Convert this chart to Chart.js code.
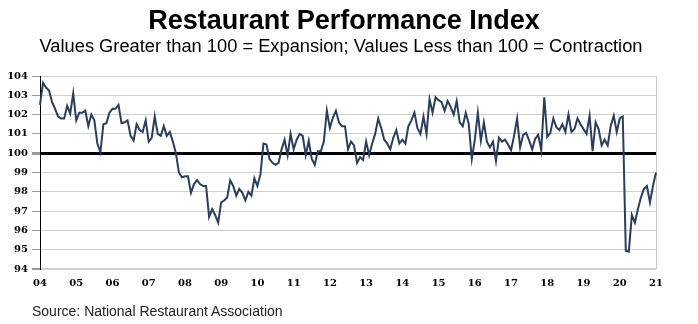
<!DOCTYPE html>
<html><head><meta charset="utf-8">
<script src="https://cdn.jsdelivr.net/npm/chart.js@4"></script>
<style>
html,body{margin:0;padding:0;background:#fff;}
#wrap{position:relative;width:698px;height:324px;overflow:hidden;}
#c{position:absolute;left:0;top:0;}
.t{position:absolute;left:0;width:682px;text-align:center;color:#000;font-family:'Liberation Sans',Arial,sans-serif;white-space:nowrap;}
#title{top:5px;font-size:27px;font-weight:bold;width:688px;}
#sub{top:35px;font-size:18.3px;}
#src{position:absolute;left:32px;top:303px;font-family:'Liberation Sans',Arial,sans-serif;font-size:14px;color:#222;white-space:nowrap;}
</style></head>
<body><div id="wrap">
<canvas id="c" width="698" height="324"></canvas>
<div class="t" id="title">Restaurant Performance Index</div>
<div class="t" id="sub">Values Greater than 100 = Expansion; Values Less than 100 = Contraction</div>
<div id="src">Source: National Restaurant Association</div>
</div>
<script>
const yearLabels = ['04','05','06','07','08','09','10','11','12','13','14','15','16','17','18','19','20','21'];
const yTicks = [94,95,96,97,98,99,100,101,102,103,104];
const rpi2004 = [102.5,103.65,103.4,103.25,102.65,102.3,101.9,101.8,101.8,102.45,102.05,103.1];
const rpi2005 = [101.7,102.1,102.1,102.2,101.4,102.0,101.7,100.5,100.05,101.5,101.55,102.1];
const rpi2006 = [102.3,102.3,102.5,101.55,101.6,101.7,100.9,100.65,101.5,101.2,101.1,101.7];
const rpi2007 = [100.6,100.8,101.9,101.0,100.9,101.4,100.9,101.1,100.6,100.0,99.0,98.75];
const rpi2008 = [98.8,98.8,97.95,98.4,98.6,98.4,98.3,98.3,96.7,97.1,96.8,96.4];
const rpi2009 = [97.45,97.55,97.7,98.6,98.3,97.8,98.15,97.95,97.55,98.0,97.8,98.7];
const rpi2010 = [98.3,98.9,100.5,100.45,99.7,99.5,99.4,99.5,100.2,100.7,99.9,101.0];
const rpi2011 = [100.2,100.7,101.0,100.9,99.9,100.65,99.7,99.4,100.1,100.1,100.6,102.2];
const rpi2012 = [101.3,101.85,102.2,101.6,101.4,101.4,100.2,100.6,100.4,99.5,99.8,99.65];
const rpi2013 = [100.6,99.9,100.5,101.0,101.8,101.3,100.7,100.5,100.2,100.8,101.2,100.5];
const rpi2014 = [100.7,100.5,101.4,101.7,102.1,101.3,101.0,101.9,101.0,102.8,102.1,102.9];
const rpi2015 = [102.75,102.65,102.2,102.7,102.4,102.0,102.7,101.6,101.4,102.1,101.5,99.7];
const rpi2016 = [100.7,102.1,100.65,101.6,100.6,100.3,100.6,99.6,100.8,100.6,100.7,100.45];
const rpi2017 = [100.15,100.9,101.8,100.3,100.95,101.05,100.65,100.2,100.75,100.95,100.15,102.9];
const rpi2018 = [100.85,101.05,101.8,101.35,101.2,101.5,101.1,102.0,101.1,101.25,101.8,101.5];
const rpi2019 = [101.25,101.0,101.95,100.1,101.6,101.25,100.4,100.7,100.4,101.4,101.95,101.1];
const rpi2020 = [101.8,101.9,94.95,94.9,96.8,96.4,97.1,97.7,98.15,98.3,97.45,98.3];
const rpi2021 = [99.0];

const values = [].concat(rpi2004,rpi2005,rpi2006,rpi2007,rpi2008,rpi2009,rpi2010,rpi2011,rpi2012,
  rpi2013,rpi2014,rpi2015,rpi2016,rpi2017,rpi2018,rpi2019,rpi2020,rpi2021);
const labels = values.map((v,i)=> yearLabels[Math.floor(i/12)] + '-' + String(i%12+1).padStart(2,'0'));

new Chart(document.getElementById('c'), {
  type: 'line',
  data: { labels: labels, datasets: [{
    data: values, borderColor: '#2a3e5c', borderWidth: 2, pointRadius: 0, tension: 0, fill: false
  }]},
  options: {
    responsive: false, animation: false,
    layout: { padding: { top: 76, right: 42, left: 0, bottom: 0 } },
    plugins: { legend: { display: false }, tooltip: { enabled: false }, title: { display: false } },
    scales: {
      x: {
        type: 'category', offset: false,
        afterFit: s => { s.height = 55; },
        border: { display: false },
        grid: { drawTicks: false, color: c => (c.index === values.length - 1 ? '#c8c8c8' : 'rgba(0,0,0,0)'), lineWidth: 1 },
        ticks: {
          autoSkip: false, maxRotation: 0, minRotation: 0, padding: 8,
          color: '#000', font: { family: 'DejaVu Serif', weight: 'bold', size: 10 },
          callback: (v, i) => (i % 12 === 0 ? yearLabels[i / 12] : '')
        }
      },
      y: {
        min: 94, max: 104,
        afterFit: s => { s.width = 40; },
        afterBuildTicks: s => { s.ticks = yTicks.map(v => ({ value: v })); },
        border: { display: true, color: '#000', width: 1 },
        grid: {
          color: c => (c.tick && c.tick.value === 100 ? '#000' : '#cfcfcf'),
          lineWidth: c => (c.tick && c.tick.value === 100 ? 3 : (c.tick && c.tick.value === 94 ? 2 : 1)),
          tickColor: '#9a9a9a', tickLength: 8, drawTicks: true
        },
        ticks: { padding: 4, color: '#000', font: { family: 'DejaVu Serif', weight: 'bold', size: 10 } }
      }
    }
  }
});
</script>
</body></html>
